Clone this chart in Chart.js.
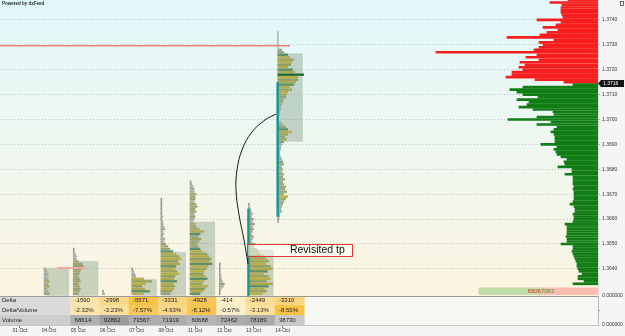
<!DOCTYPE html>
<html><head><meta charset="utf-8">
<script src="https://cdn.jsdelivr.net/npm/chart.js@4.4.1/dist/chart.umd.min.js"></script>
<style>html,body{margin:0;padding:0;background:#f6f6f6;overflow:hidden}canvas{display:block}</style>
</head><body>
<canvas id="c" width="625" height="336"></canvas>
<script>
// ================= DATA =================
const dayLabels = ['30 Sep','01 Oct','04 Oct','05 Oct','06 Oct','07 Oct','08 Oct','11 Oct','12 Oct','13 Oct','14 Oct'];
const priceTicks = [1.3640,1.3650,1.3660,1.3670,1.3680,1.3690,1.3700,1.3710,1.3720,1.3730,1.3740];

// daily volume profiles (one row per pip, from the top price down)
const profileDays = ['04 Oct','05 Oct','06 Oct','07 Oct','08 Oct','11 Oct','12 Oct','13 Oct','14 Oct'];
const profileTopPrice = [1.3640,1.3648,1.3631,1.3640,1.3668,1.3675,1.3642,1.3666,1.3735];
const vol04Oct = [2,3,4,3,4,5,4,5,3,4,5];
const vol05Oct = [1,1,2,3,3,5,9,10,8,7,6,5,6,7,5,6,7,6,5];
const vol06Oct = [1,2];
const vol07Oct = [1,2,3,4,12,20,14,10,13,18,12];
const vol08Oct = [1,1,1,1,1,1,1,2,1,2,2,3,4,2,3,2,4,3,5,7,9,12,15,18,20,17,19,15,14,16,18,14,13,16,12,14,13,11,9];
const vol11Oct = [1,2,3,4,4,6,5,5,4,6,7,5,6,4,5,4,3,5,6,9,14,10,8,11,9,7,8,10,12,17,19,21,20,22,18,16,14,13,15,17,14,12,18,15,13,10];
const vol12Oct = [1,1,1,1,1,2,2,3,5,4,2,1,1];
const vol13Oct = [1,1,2,3,4,3,5,4,6,4,5,4,3,5,4,3,6,5,8,10,12,16,18,20,17,22,24,19,15,20,22,18,24,20,16,18,14];
const vol14Oct = [0.5,0.5,0.5,0.5,0.5,0.5,0.5,
  4,6,10,12,16,14,13,10,15,17,26,20,20,18,16,12,14,10,9,8,6,5,4,3,3,2,2,1,1,3,5,8,10,14,10,7,9,6,4,3,3,2,2,
  3,4,5,6,4,5,4,6,5,7,5,6,8,7,9,6,10,8,6,5,4,3,4,2,2,1,1];
const pocDay = '14 Oct';

// value areas (grey boxes) per profile day
const valueAreaHigh = [1.36404,1.36433,null,1.36360,1.36469,1.36590,null,1.36479,1.37267];
const valueAreaLow  = [1.3625,1.3625,null,1.3625,1.3625,1.3625,null,1.3625,1.36910];

// open/close bodies (teal)
const bodyDays = ['13 Oct','14 Oct'];
const bodyHigh = [1.36641,1.37151];
const bodyLow  = [1.3625,1.36609];

// session profile on the right (one row per pip from the top)
const sessionTopPrice = 1.3748;
const sessionVolumes = [
  30,48,36,37,37,37,36,35,61,37,42,55,40,51,58,91,44,59,55,59,64,162,61,72,59,78,73,79,75,86,86,92,63,34,
  25,75,88,81,75,60,81,69,71,79,65,45,44,61,90,47,61,41,44,47,44,43,43,43,57,41,
  44,42,41,37,31,34,33,40,26,26,33,25,25,25,25,24,25,24,24,24,24,25,28,24,23,23,25,24,24,25,
  33,31,31,31,31,32,31,31,37,25,25,26,25,24,23,22,21,21,20,19,16,20,20,14,25];
const lastPrice = 1.37145;
const lastPriceLabel = '1.3716';
const sessionSell = 6506, sessionBuy = 7063, sessionDeltaPrice = 1.36310;

// horizontal lines
const levelPrices = [1.37296, 1.36404];
const levelFrom = [0.3, 2.27];
const levelTo = [10.25, 3.23];

// hand-drawn arrow (day index, price)
const arrowDays = [8.815,8.678,8.507,8.404,8.438,8.610,8.952,9.397,9.774];
const arrowPrices = [1.36420,1.36516,1.36617,1.36717,1.36797,1.36878,1.36950,1.36998,1.37022];

// text annotation
const noteText = 'Revisited tp';
const noteDays = [8.78, 12.38];
const notePrices = [1.36500, 1.36452];
const noteTextDay = 10.25;

// table
const tableDays = ['05 Oct','06 Oct','07 Oct','08 Oct','11 Oct','12 Oct','13 Oct','14 Oct'];
const tableDelta = [-1590,-2998,-5571,-3331,-4928,-414,-2449,-3310];
const tableDeltaPct = [-2.32,-3.23,-7.57,-4.63,-8.12,-0.57,-3.13,-8.55];
const tableVolume = [68614,92862,73567,71919,60688,72462,78189,38730];
const tableRowLabels = ['Delta','Delta/Volume','Volume'];

// ================= LAYOUT CONSTANTS =================
const Y_MIN = 1.36291, Y_MAX = 1.37480;
const X_MIN = 0.322, X_MAX = 20.80;
const PIP = 0.0001;
const PROFILE_OFFSET = -0.17;
const VOL_TO_DAYS = 1 / 29.2;
const SESSION_MAX_FRACTION = 0.271;
const SESSION_DELTA_FRACTION = 0.199;
const FONT = '"Liberation Sans", Arial, sans-serif';
const dayIndex = l => dayLabels.indexOf(l);

function mix(a, b, t) {
  const pa = parseInt(a.slice(1), 16), pb = parseInt(b.slice(1), 16);
  const ch = s => Math.round(((pa >> s) & 255) * (1 - t) + ((pb >> s) & 255) * t);
  return `rgb(${ch(16)},${ch(8)},${ch(0)})`;
}

// ---- build profile rows
const profileVolumes = [vol04Oct,vol05Oct,vol06Oct,vol07Oct,vol08Oct,vol11Oct,vol12Oct,vol13Oct,vol14Oct];
const profileRows = [];
profileDays.forEach((d, p) => {
  const start = dayIndex(d) + PROFILE_OFFSET;
  const vals = profileVolumes[p];
  const maxV = Math.max(...vals);
  vals.forEach((v, j) => {
    profileRows.push({x: [start, start + v * VOL_TO_DAYS], y: +(profileTopPrice[p] - j * PIP).toFixed(5), v, j, poc: d === pocDay && v === maxV});
  });
});
const bigCols = ['#b8ae45','#8e9c60','#b0a84c','#5f8f68','#b5ac55','#9aa35e'];
function profileColor(c) {
  const r = c.raw; if (!r) return '#999';
  if (r.poc) return '#1d6a35';
  if (r.v >= 10) return bigCols[r.j % bigCols.length];
  if (r.v >= 5) return r.j % 2 ? '#a7a66a' : '#94a37c';
  if (r.v >= 2) return '#a1aa9c';
  return '#8c958d';
}

const sessionMax = Math.max(...sessionVolumes) / SESSION_MAX_FRACTION;
const sessionRows = sessionVolumes.map((v, k) => ({x: [0, v], y: +(sessionTopPrice - k * PIP).toFixed(5)}));
const dUnits = sessionMax * SESSION_DELTA_FRACTION / (sessionSell + sessionBuy);
const sessionDeltaRows = [
  {x: [0, sessionSell * dUnits], y: sessionDeltaPrice},
  {x: [sessionSell * dUnits, (sessionSell + sessionBuy) * dUnits], y: sessionDeltaPrice}
];

// ---- datasets
const datasets = [];
profileDays.forEach((d, p) => {
  if (valueAreaHigh[p] == null) return;
  const s = dayIndex(d) + PROFILE_OFFSET;
  const x0 = s + 0.05, x1 = s + 0.88;
  const top = valueAreaHigh[p], bot = Math.max(valueAreaLow[p], Y_MIN);
  datasets.push({type: 'line', order: 6, xAxisID: 'x', yAxisID: 'y',
    data: [{x: x0, y: top}, {x: x1, y: top}, {x: x1, y: bot}, {x: x0, y: bot}, {x: x0, y: top}],
    borderColor: 'rgba(255,255,255,0.35)', borderWidth: 1, backgroundColor: 'rgba(120,150,125,0.38)',
    fill: 'shape', pointRadius: 0, tension: 0});
});
datasets.push({type: 'bar', order: 4, indexAxis: 'y', xAxisID: 'x', yAxisID: 'y', data: profileRows,
  backgroundColor: profileColor, barThickness: 1.7, grouped: false});
datasets.push({type: 'bar', order: 4, indexAxis: 'y', xAxisID: 'xv', yAxisID: 'y', data: sessionRows,
  backgroundColor: c => (c.raw && c.raw.y > lastPrice) ? '#f81e1e' : '#127d14', barThickness: 2, grouped: false});
datasets.push({type: 'bar', order: 4, indexAxis: 'y', xAxisID: 'xv', yAxisID: 'y', data: sessionDeltaRows,
  backgroundColor: ['#ffbdb1', '#c2dba8'], barThickness: 7, grouped: false});

// table cells
const maxD = Math.max(...tableDelta.map(Math.abs));
const maxP = Math.max(...tableDeltaPct.map(Math.abs));
const maxV = Math.max(...tableVolume);
const cellRows = [], cellCols = [];
const colStart = d => dayIndex(d) - 0.26;
tableRowLabels.forEach((lab, r) => {
  const yv = 2.5 - r;
  cellRows.push({x: [X_MIN - 1, colStart(tableDays[0])], y: yv});
  cellCols.push(r === 2 ? '#cdcdcd' : '#dadada');
});
tableDays.forEach((d, c) => {
  const a = colStart(d), b = a + 1;
  cellRows.push({x: [a, b], y: 2.5}); cellCols.push(mix('#fdf1d4', '#f8c247', Math.abs(tableDelta[c]) / maxD));
  cellRows.push({x: [a, b], y: 1.5}); cellCols.push(mix('#fdf1d4', '#f8c247', Math.abs(tableDeltaPct[c]) / maxP));
  cellRows.push({x: [a, b], y: 0.5}); cellCols.push(mix('#e6e6e6', '#9d9d9d', tableVolume[c] / maxV));
});
datasets.push({type: 'bar', order: 4, indexAxis: 'y', xAxisID: 'x', yAxisID: 'yp', data: cellRows,
  backgroundColor: cellCols, barPercentage: 1, categoryPercentage: 1, grouped: false});

// teal bodies
bodyDays.forEach((d, i) => {
  const x = dayIndex(d) + PROFILE_OFFSET;
  datasets.push({type: 'line', order: 2, xAxisID: 'x', yAxisID: 'y',
    data: [{x, y: bodyHigh[i]}, {x, y: Math.max(bodyLow[i], Y_MIN)}],
    borderColor: '#16989a', borderWidth: 2.5, pointRadius: 0, fill: false});
});
// horizontal levels
levelPrices.forEach((p, i) => {
  datasets.push({type: 'line', order: 2, xAxisID: 'x', yAxisID: 'y',
    data: [{x: levelFrom[i], y: p}, {x: levelTo[i], y: p}],
    borderColor: i === 0 ? '#f08278' : '#f4a7a7', borderWidth: i === 0 ? 1.5 : 2, pointRadius: 0, fill: false});
});
// arrow curve
datasets.push({type: 'line', order: 1, xAxisID: 'x', yAxisID: 'y',
  data: arrowDays.map((d, i) => ({x: d, y: arrowPrices[i]})),
  borderColor: '#1a1a1a', borderWidth: 1, pointRadius: 0, tension: 0.4, fill: false});

// ---- plugins
const bgPlugin = {
  id: 'bg',
  beforeDraw(chart) {
    const {ctx, chartArea: a, scales: {y, yp}} = chart;
    ctx.save();
    ctx.fillStyle = '#f5f5f5'; ctx.fillRect(0, 0, chart.width, chart.height);
    const g = ctx.createLinearGradient(0, y.top, 0, y.bottom);
    g.addColorStop(0, '#e2f8fb'); g.addColorStop(0.5, '#eef7ef'); g.addColorStop(1, '#fcf5e1');
    ctx.fillStyle = g; ctx.fillRect(a.left, y.top, a.right - a.left, y.bottom - y.top);
    ctx.fillStyle = '#f7f7f3'; ctx.fillRect(a.left, yp.top, a.right - a.left, yp.bottom - yp.top);
    ctx.restore();
  }
};
const annPlugin = {
  id: 'ann',
  afterDatasetsDraw(chart) {
    const {ctx, chartArea: a, scales: {x, y, yp, xv}} = chart;
    ctx.save();
    // panel border
    ctx.strokeStyle = '#9b9b9b'; ctx.lineWidth = 1;
    ctx.beginPath(); ctx.moveTo(a.left, Math.round(y.bottom) + 0.5); ctx.lineTo(a.right, Math.round(y.bottom) + 0.5); ctx.stroke();
    // table text
    ctx.font = '6px ' + FONT; ctx.fillStyle = '#222'; ctx.textBaseline = 'middle'; ctx.textAlign = 'left';
    tableRowLabels.forEach((lab, r) => ctx.fillText(lab, a.left + 2, yp.getPixelForValue(2.5 - r)));
    tableDays.forEach((d, c) => {
      const px = x.getPixelForValue(colStart(d)) + 4;
      ctx.fillText(String(tableDelta[c]), px, yp.getPixelForValue(2.5));
      ctx.fillText(tableDeltaPct[c].toFixed(2) + '%', px, yp.getPixelForValue(1.5));
      ctx.fillText(String(tableVolume[c]), px, yp.getPixelForValue(0.5));
    });
    // note box
    const bx0 = x.getPixelForValue(noteDays[0]), bx1 = x.getPixelForValue(noteDays[1]);
    const by0 = y.getPixelForValue(notePrices[0]), by1 = y.getPixelForValue(notePrices[1]);
    ctx.fillStyle = 'rgba(255,255,255,0.5)'; ctx.fillRect(bx0, by0, bx1 - bx0, by1 - by0);
    ctx.strokeStyle = '#d93a32'; ctx.lineWidth = 1;
    ctx.strokeRect(Math.round(bx0) + 0.5, Math.round(by0) + 0.5, Math.round(bx1 - bx0), Math.round(by1 - by0));
    ctx.fillStyle = '#111'; ctx.font = '10.5px ' + FONT; ctx.textAlign = 'left';
    ctx.fillText(noteText, x.getPixelForValue(noteTextDay), (by0 + by1) / 2 + 0.5);
    // session delta text
    const sy = y.getPixelForValue(sessionDeltaPrice);
    const sxMid = xv.getPixelForValue(sessionSell * dUnits);
    ctx.font = '6px ' + FONT; ctx.textAlign = 'left';
    const t1 = String(sessionSell), t2 = String(sessionBuy);
    const w1 = ctx.measureText(t1).width, w2 = ctx.measureText(t2).width;
    const tx = sxMid - (w1 + w2) / 2;
    ctx.fillStyle = '#e0201c'; ctx.fillText(t1, tx, sy + 0.5);
    ctx.fillStyle = '#2f9a2f'; ctx.fillText(t2, tx + w1, sy + 0.5);
    ctx.restore();
  },
  afterDraw(chart) {
    const {ctx, chartArea: a, scales: {y}} = chart;
    ctx.save();
    const py = y.getPixelForValue(lastPrice);
    ctx.fillStyle = '#121212';
    ctx.beginPath(); ctx.moveTo(a.right, py); ctx.lineTo(a.right + 3, py - 3.5); ctx.lineTo(chart.width - 1, py - 3.5);
    ctx.lineTo(chart.width - 1, py + 3.5); ctx.lineTo(a.right + 3, py + 3.5); ctx.closePath(); ctx.fill();
    ctx.fillStyle = '#fff'; ctx.font = '5px ' + FONT; ctx.textBaseline = 'middle'; ctx.textAlign = 'left';
    ctx.fillText(lastPriceLabel, a.right + 5, py + 0.3);
    ctx.fillStyle = '#2a2a3a'; ctx.font = 'bold 4.5px ' + FONT;
    ctx.fillText('Powered by dxFeed', 2, 4);
    ctx.strokeStyle = '#444'; ctx.lineWidth = 0.8; ctx.strokeRect(620.5, 1.5, 3, 4);
    ctx.restore();
  }
};

const zeroPad = s => { s.paddingLeft = 0; s.paddingRight = 0; s.paddingTop = 0; s.paddingBottom = 0; };

new Chart(document.getElementById('c'), {
  type: 'bar',
  data: {datasets},
  plugins: [bgPlugin, annPlugin],
  options: {
    responsive: false, animation: false, devicePixelRatio: 1, events: [],
    layout: {padding: 0},
    plugins: {legend: {display: false}, tooltip: {enabled: false}},
    scales: {
      x: {type: 'linear', position: 'bottom', min: X_MIN, max: X_MAX, offset: false,
        grid: {drawOnChartArea: false, drawTicks: true, tickLength: 3, color: '#777', offset: false},
        border: {display: true, color: '#c4c4c4'},
        afterBuildTicks: s => { s.ticks = dayLabels.map((l, i) => ({value: i})); },
        afterFit: s => { s.height = 11; zeroPad(s); },
        ticks: {autoSkip: false, maxRotation: 0, padding: 0, color: '#333', font: {size: 5, family: FONT},
          callback: v => dayLabels[v] ?? ''}},
      xv: {type: 'linear', display: false, reverse: true, min: 0, max: sessionMax, offset: false},
      y: {type: 'linear', position: 'right', stack: 'v', stackWeight: 296, min: Y_MIN, max: Y_MAX, offset: false,
        grid: {color: 'rgba(140,150,150,0.5)', lineWidth: 1, tickLength: 2, tickColor: '#aaa', offset: false},
        border: {display: true, color: '#dedede', dash: [1, 2]},
        afterBuildTicks: s => { s.ticks = priceTicks.map(v => ({value: v})); },
        afterFit: s => { s.width = 27; zeroPad(s); },
        ticks: {padding: 2, color: '#333', font: {size: 5, family: FONT}, callback: v => Number(v).toFixed(4)}},
      yp: {type: 'linear', position: 'right', stack: 'v', stackWeight: 29, min: 0, max: 3, offset: false,
        grid: {display: true, drawOnChartArea: false, tickLength: 2, color: '#888'},
        border: {display: true, color: '#bbb'},
        afterBuildTicks: s => { s.ticks = [{value: 0}, {value: 3}]; },
        afterFit: s => { s.width = 27; zeroPad(s); },
        ticks: {padding: 2, color: '#333', font: {size: 5, family: FONT}, callback: () => '0.000000'}}
    }
  }
});
</script>
</body></html>
